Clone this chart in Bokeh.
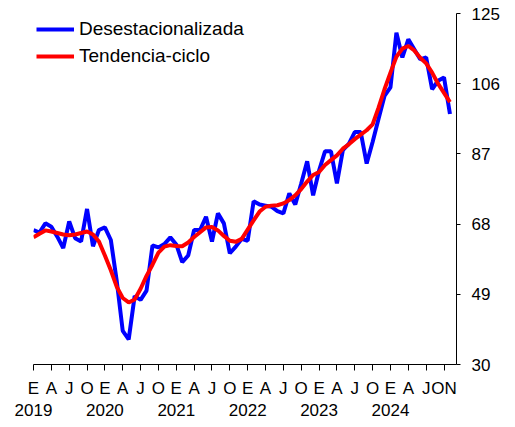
from bokeh.plotting import figure
from bokeh.models import FixedTicker, Legend, LegendItem, ColumnDataSource
from bokeh.embed import file_html
from bokeh.resources import INLINE

# Monthly series, January 2019 .. November 2024 (index 0 = Jan 2019)
meses = [f"{2019 + i // 12}-{i % 12 + 1:02d}" for i in range(71)]

desestacionalizada = [
    66.4, 65.7, 68.2, 67.3, 64.6, 61.5, 68.7, 64.2, 63.3, 72.1, 62.0, 66.4,   # 2019
    67.1, 63.7, 52.5, 39.1, 36.8, 48.5, 47.5, 50.0, 62.2, 61.7, 62.6, 64.4,   # 2020
    62.5, 57.7, 59.5, 66.4, 66.4, 70.0, 63.3, 70.9, 68.2, 60.1, 61.9, 64.0,   # 2021
    63.5, 74.2, 73.3, 73.0, 72.7, 71.5, 70.9, 76.3, 73.3, 79.0, 85.0, 75.8,   # 2022
    82.5, 87.7, 87.7, 79.0, 88.0, 89.7, 92.9, 92.9, 84.4, 90.2, 96.5, 102.7,  # 2023
    105.0, 119.8, 113.1, 118.0, 115.3, 112.6, 113.1, 104.5, 106.8, 107.7, 97.8,  # 2024
]

tendencia_ciclo = [
    64.4, 65.4, 66.3, 66.0, 65.6, 65.2, 65.0, 65.2, 65.6, 66.0, 65.2, 63.3,
    59.5, 55.5, 51.0, 48.0, 46.8, 47.6, 50.5, 54.0, 57.0, 60.3, 61.9, 62.3,
    62.1, 62.0, 63.0, 64.5, 65.8, 67.1, 67.2, 66.3, 64.8, 63.5, 63.2, 64.0,
    66.5, 69.0, 71.4, 72.7, 73.0, 73.1, 73.6, 74.5, 75.8, 77.5, 79.5, 81.3,
    82.1, 84.0, 85.3, 86.6, 88.4, 89.6, 91.0, 92.2, 93.4, 95.0, 99.5, 104.5,
    109.0, 113.3, 115.5, 116.2, 115.0, 113.0, 111.5, 109.0, 106.0, 103.5, 101.0,
]

tick_pos = [0, 3, 6, 9, 12, 15, 18, 21, 24, 27, 30, 33, 36, 39, 42, 45, 48, 51, 54, 57, 60, 63, 66, 69]
tick_labels = ["E\n2019", "A", "J", "O", "E\n2020", "A", "J", "O", "E\n2021", "A", "J", "O",
               "E\n2022", "A", "J", "O", "E\n2023", "A", "J", "O", "E\n2024", "A", "J", "ON"]
y_ticks = [30, 49, 68, 87, 106, 125]

x = list(range(len(meses)))
src = ColumnDataSource(dict(x=x, mes=meses, d=desestacionalizada, t=tendencia_ciclo))

p = figure(width=507, height=423, output_backend="svg", toolbar_location=None,
           x_range=(0, 71.1), y_range=(30, 125), y_axis_location="right",
           min_border_left=33, min_border_right=51, min_border_top=13, min_border_bottom=57)
p.outline_line_color = None
p.xgrid.visible = False
p.ygrid.visible = False
p.background_fill_color = "white"

FONT = "Liberation Sans"

xa = p.xaxis[0]
xa.ticker = FixedTicker(ticks=tick_pos)
xa.major_label_overrides = {t: l for t, l in zip(tick_pos, tick_labels)}
xa.minor_tick_line_color = None
xa.major_tick_in = 0
xa.major_tick_out = 6
xa.axis_line_color = "black"
xa.major_tick_line_color = "black"
xa.major_label_text_font = FONT
xa.major_label_text_font_size = "17px"
xa.major_label_text_color = "black"
xa.major_label_standoff = 8

ya = p.yaxis[0]
ya.ticker = FixedTicker(ticks=y_ticks)
ya.minor_tick_line_color = None
ya.major_tick_in = 0
ya.major_tick_out = 4
ya.axis_line_color = "black"
ya.major_tick_line_color = "black"
ya.major_label_text_font = FONT
ya.major_label_text_font_size = "17px"
ya.major_label_text_color = "black"
ya.major_label_standoff = 11

r1 = p.line("x", "d", source=src, line_color="#0000FF", line_width=4)
r2 = p.line("x", "t", source=src, line_color="#FF0000", line_width=4)

legend = Legend(items=[LegendItem(label="Desestacionalizada", renderers=[r1]),
                       LegendItem(label="Tendencia-ciclo", renderers=[r2])],
                location=(3, 297), padding=0, spacing=5,
                glyph_width=38, glyph_height=20, label_height=20, label_standoff=5,
                label_text_font=FONT, label_text_font_size="19px", label_text_color="black",
                border_line_color=None, background_fill_alpha=0)
p.add_layout(legend)

open("out.html", "w").write(file_html(p, INLINE))
